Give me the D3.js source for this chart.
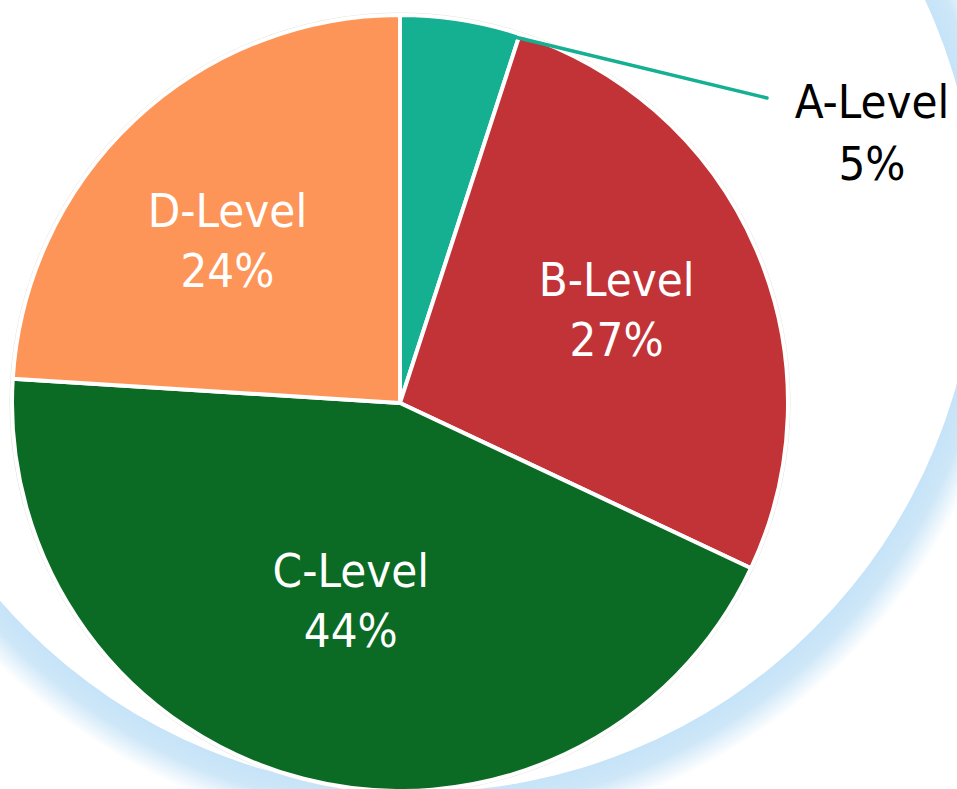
<!DOCTYPE html>
<html>
<head>
<meta charset="utf-8">
<script src="https://cdn.jsdelivr.net/npm/d3@7"></script>
<style>
  html, body { margin: 0; padding: 0; background: #ffffff; }
  svg { display: block; }
  text { font-family: "DejaVu Sans Condensed", "DejaVu Sans", sans-serif; font-stretch: condensed; }
</style>
</head>
<body>
<svg id="chart" width="957" height="789"></svg>
<script>
// ---- data ----
const categories = ["A-Level", "B-Level", "C-Level", "D-Level"];
const values = [5, 27, 44, 24];
const percentLabels = ["5%", "27%", "44%", "24%"];

// ---- styles ----
const colors = ["#15b092", "#c13337", "#0b6b24", "#fd9558"];
const W = 957, H = 789;
const cx = 400, cy = 403, R = 388;

const svg = d3.select("#chart");

// background halo (white disc with light-blue glow)
const defs = svg.append("defs");
const haloR = 557, haloW = 45;
const grad = defs.append("radialGradient")
  .attr("id", "halo")
  .attr("gradientUnits", "userSpaceOnUse")
  .attr("cx", 420).attr("cy", 235).attr("r", haloR + haloW);
const stops = [
  [0, "#ffffff"],
  [haloR / (haloR + haloW), "#c6e3f8"],
  [(haloR + 20) / (haloR + haloW), "#cee7f8"],
  [1, "#ffffff"]
];
stops.forEach(s => grad.append("stop").attr("offset", s[0]).attr("stop-color", s[1]));
svg.append("circle").attr("cx", 420).attr("cy", 235).attr("r", haloR + haloW).attr("fill", "url(#halo)");
svg.append("circle").attr("cx", 420).attr("cy", 235).attr("r", haloR).attr("fill", "#ffffff");

const g = svg.append("g").attr("transform", `translate(${cx},${cy})`);

const data = categories.map((c, i) => ({ cat: c, value: values[i], pct: percentLabels[i], color: colors[i] }));
const pie = d3.pie().value(d => d.value).sort(null);
const arcs = pie(data);
const arc = d3.arc().innerRadius(0).outerRadius(R);

// faint outline
g.append("circle").attr("r", R + 2).attr("fill", "none").attr("stroke", "#e2e2da").attr("stroke-width", 1);

g.selectAll("path.slice").data(arcs).join("path")
  .attr("class", "slice")
  .attr("d", arc)
  .attr("fill", d => d.data.color)
  .attr("stroke", "#ffffff")
  .attr("stroke-width", 4)
  .attr("stroke-linejoin", "round");

// label placement (layout)
const labelRadius = { "B-Level": 236, "C-Level": 206, "D-Level": 236 };
const labelNudge = { "B-Level": [0, 0], "C-Level": [2, -2], "D-Level": [-11, 9] };
const fs = 47, lh = 60;

arcs.forEach(d => {
  const name = d.data.cat;
  if (labelRadius[name]) {
    const la = d3.arc().innerRadius(labelRadius[name]).outerRadius(labelRadius[name]);
    let [x, y] = la.centroid(d);
    x += labelNudge[name][0]; y += labelNudge[name][1];
    const t = g.append("text").attr("text-anchor", "middle").attr("fill", "#ffffff").attr("font-size", fs);
    t.append("tspan").attr("x", x).attr("y", y - lh / 2 + fs * 0.36).text(name);
    t.append("tspan").attr("x", x).attr("y", y + lh / 2 + fs * 0.36).text(d.data.pct);
  } else {
    // outside label with leader line
    const edge = d3.arc().innerRadius(R - 4).outerRadius(R - 4).centroid(d);
    const end = [367, -305];
    g.append("line")
      .attr("x1", edge[0]).attr("y1", edge[1])
      .attr("x2", end[0]).attr("y2", end[1])
      .attr("stroke", d.data.color).attr("stroke-width", 3.5).attr("stroke-linecap", "round");
    const tx = 472;
    const t = g.append("text").attr("text-anchor", "middle").attr("fill", "#000000").attr("font-size", fs);
    t.append("tspan").attr("x", tx).attr("y", 118 - cy).text(name);
    t.append("tspan").attr("x", tx).attr("y", 180 - cy).text(d.data.pct);
  }
});
</script>
</body>
</html>
